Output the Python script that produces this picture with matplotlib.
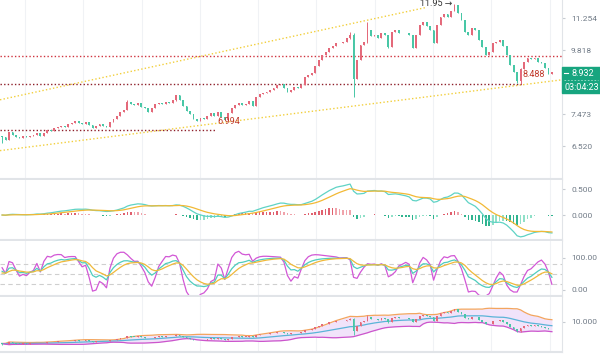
import numpy as np
import pandas as pd
import matplotlib
matplotlib.use('Agg')
import matplotlib.pyplot as plt
from matplotlib.patches import Rectangle
from matplotlib.lines import Line2D
from matplotlib.ticker import NullLocator

plt.rcParams['font.family'] = ['Roboto', 'DejaVu Sans']

# candle closes (open = previous close)
closes = [6.77, 6.70, 6.94, 6.85, 6.77, 6.74, 6.80, 6.77, 6.82, 6.85,
          6.91, 6.82, 6.91, 7.00, 6.97, 7.06, 7.09, 7.12, 7.09, 7.18,
          7.21, 7.27, 7.21, 7.18, 7.24, 7.15, 7.06, 7.12, 7.18, 7.12,
          7.09, 7.24, 7.33, 7.42, 7.56, 7.62, 7.88, 7.82, 7.79, 7.85,
          7.72, 7.66, 7.56, 7.66, 7.82, 7.85, 7.82, 7.88, 7.85, 7.95,
          8.10, 7.95, 7.75, 7.59, 7.47, 7.33, 7.27, 7.37, 7.33, 7.42,
          7.53, 7.42, 7.56, 7.40, 7.30, 7.50, 7.69, 7.79, 7.85, 7.79,
          7.82, 7.92, 7.75, 8.06, 8.16, 8.20, 8.23, 8.30, 8.37, 8.48,
          8.52, 8.37, 8.23, 8.30, 8.41, 8.37, 8.48, 8.76, 8.85, 8.93,
          9.20, 9.44, 9.64, 9.76, 9.93, 10.01, 10.15, 10.11, 10.19, 10.36,
          10.50, 8.70, 9.44, 10.06, 10.19, 10.72, 10.43, 10.50, 10.36, 10.59,
          10.46, 9.97, 10.63, 10.72, 10.59, 10.55, 10.59, 10.50, 9.93, 10.50,
          10.96, 11.10, 10.87, 10.72, 10.11, 10.96, 11.34, 11.44, 11.30, 11.63,
          11.93, 11.53, 11.19, 10.63, 10.46, 10.82, 10.72, 10.28, 9.97, 9.64,
          9.76, 10.11, 10.19, 10.28, 10.01, 9.64, 9.24, 8.97, 8.60, 9.05,
          9.36, 9.52, 9.45, 9.50, 9.36, 9.30, 9.12, 8.89, 8.932]
first_open = 6.80
# candles with visible wicks: index -> (high, low)
wicks = {0: (6.82, 6.62), 36: (7.95, 7.60), 50: (8.13, 7.90), 100: (10.60, 10.30),
         101: (10.55, 8.06), 105: (11.10, 10.15), 111: (10.50, 9.90),
         130: (11.95, 11.60), 148: (8.97, 8.55), 149: (9.10, 8.488)}

upper_trend = [(-0.6, 7.95), (121.6, 11.78)]
lower_trend = [(-0.6, 6.40), (161.0, 8.66)]
resist_level = 9.57
low_level = 8.488
old_low = 6.994
peak = 11.95
last_price = 8.932
countdown = '03:04:23'
price_ticks = [6.520, 7.473, 9.818, 11.254]

RED = '#e4697a'
TEAL = '#48c7a6'

c = np.array(closes)
o = np.array([first_open] + closes[:-1])
hi = np.maximum(o, c)
lo = np.minimum(o, c)
for k, (h, l) in wicks.items():
    hi[k] = h
    lo[k] = l
idx = np.arange(len(c))
cols = np.where(c >= o, RED, TEAL)

# indicators
cs = pd.Series(c)
dif = cs.ewm(span=12, adjust=False).mean() - cs.ewm(span=26, adjust=False).mean()
dea = dif.ewm(span=9, adjust=False).mean()
hist = dif - dea

llv = pd.Series(lo).rolling(9, min_periods=1).min()
hhv = pd.Series(hi).rolling(9, min_periods=1).max()
rsv = ((cs - llv) / (hhv - llv).replace(0, np.nan) * 100).fillna(50).values
K = np.zeros(len(c)); D = np.zeros(len(c))
kp, dp = 50.0, 50.0
for i in range(len(c)):
    kp = 2 / 3 * kp + rsv[i] / 3
    dp = 2 / 3 * dp + kp / 3
    K[i], D[i] = kp, dp
J = 3 * K - 2 * D

mid = cs.rolling(20, min_periods=1).mean()
sd = cs.rolling(20, min_periods=1).std(ddof=0)
bup = mid + 2 * sd
bdn = mid - 2 * sd

W, H = 600, 355
fig = plt.figure(figsize=(6, 3.55), dpi=100)


def panel(top, bottom):
    return fig.add_axes([0, 1 - bottom / H, 562 / W, (bottom - top) / H])


ax0 = panel(0, 179)
ax1 = panel(180, 240)
ax2 = panel(241, 296)
ax3 = panel(297, 352)
grid_x = [6.6 + 16.75 * k for k in range(10)]

for ax in (ax0, ax1, ax2, ax3):
    ax.set_xlim(-0.6, 160.9)
    for s in ('top', 'left'):
        ax.spines[s].set_visible(False)
    ax.spines['bottom'].set_color('#e1e4e8')
    ax.spines['bottom'].set_linewidth(1.5)
    ax.spines['right'].set_color('#e1e4e8')
    ax.set_xticks([])
    ax.yaxis.tick_right()
    ax.tick_params(axis='y', length=2.5, color='#c8ccd2', labelsize=6,
                   labelcolor='#707a86', pad=4)
    for gx in grid_x:
        ax.axvline(gx, color='#f0f2f5', lw=0.8, zorder=0)

# main price panel
ax0.set_yscale('log')
ax0.set_ylim(5.67, 12.17)
ax0.yaxis.set_minor_locator(NullLocator())
ax0.set_yticks(price_ticks)
ax0.set_yticklabels(['%.3f' % v for v in price_ticks])
ax0.vlines(idx, lo, hi, colors=cols, lw=0.7, zorder=3)
ax0.bar(idx, np.maximum(np.abs(c - o), 0.015), bottom=np.minimum(o, c),
        width=0.52, color=cols, zorder=3)
dots = (0, (1, 1.6))
ax0.plot(*zip(*upper_trend), ls=dots, color='#f2cf3c', lw=1, zorder=2)
ax0.plot(*zip(*lower_trend), ls=dots, color='#f2cf3c', lw=1, zorder=2)
ax0.hlines(resist_level, -0.6, 161, colors='#d0343f', linestyles=[dots], lw=1)
ax0.hlines(low_level, -0.6, 149.4, colors='#8e1f2a', linestyles=[dots], lw=1)
ax0.hlines(old_low, -0.6, 61.5, colors='#8e1f2a', linestyles=[dots], lw=1)
ax0.text(61.8, 7.25, '%.3f' % old_low, color='#c0392b', fontsize=6.5,
         va='center', ha='left', zorder=4)
ax0.text(149.6, 8.85, '%.3f' % low_level, color='#c0392b', fontsize=6.5,
         va='center', ha='left', zorder=4)
ax0.text(129.4, 11.98, '%.2f →' % peak, color='#333333', fontsize=6.5,
         va='center', ha='right', zorder=4)

# last price tag
fig.add_artist(Rectangle((562 / W, 1 - 93 / H), 38 / W, 26 / H,
                         transform=fig.transFigure, color='#17a57f', zorder=5))
fig.add_artist(Line2D([564 / W, 568 / W], [1 - 73 / H, 1 - 73 / H],
                      transform=fig.transFigure, color='white', lw=0.8, zorder=6))
fig.add_artist(Line2D([564 / W, 598 / W], [1 - 80 / H, 1 - 80 / H],
                      transform=fig.transFigure, color='#9fe0cc', lw=0.6,
                      ls=(0, (2, 2)), zorder=6))
fig.text(583 / W, 1 - 73 / H, '%.3f' % last_price, color='white', fontsize=6.5,
         ha='center', va='center', zorder=7)
fig.text(582 / W, 1 - 87 / H, countdown, color='white', fontsize=6.5,
         ha='center', va='center', zorder=7)

# MACD
ax1.set_ylim(-0.48, 0.673)
ax1.set_yticks([0, 0.5])
ax1.set_yticklabels(['0.000', '0.500'])
hv = hist.values
prev = np.concatenate([[0], hv[:-1]])
hcols = np.where(hv >= 0, np.where(hv >= prev, '#e0606e', '#f0a3ab'),
                 np.where(hv <= prev, '#2fb48f', '#90e0c8'))
ax1.bar(idx, hv, width=0.45, color=hcols)
ax1.plot(idx, dif, color='#5fd3c5', lw=0.9)
ax1.plot(idx, dea, color='#f2b935', lw=0.9)

# KDJ
ax2.set_ylim(-19, 153)
ax2.set_yticks([0, 100])
ax2.set_yticklabels(['0.00', '100.00'])
for lv in (20, 50, 80):
    ax2.axhline(lv, color='#cfcfcf', lw=0.8, ls=(0, (4, 3)))
ax2.plot(idx, J, color='#d257d6', lw=0.9)
ax2.plot(idx, K, color='#4fcdbd', lw=0.9)
ax2.plot(idx, D, color='#f0b93a', lw=0.9)

# BOLL
ax3.set_ylim(5.5, 13.75)
ax3.set_yticks([10])
ax3.set_yticklabels(['10.000'])
ax3.fill_between(idx, bdn, bup, color='#f1e3fa', lw=0)
ax3.plot(idx, bup, color='#f3a55e', lw=0.9)
ax3.plot(idx, mid, color='#5ab4d8', lw=0.9)
ax3.plot(idx, bdn, color='#cc55cc', lw=0.9)
ax3.vlines(idx, lo, hi, colors=cols, lw=0.6, zorder=3)
ax3.bar(idx, np.maximum(np.abs(c - o), 0.04), bottom=np.minimum(o, c),
        width=0.5, color=cols, zorder=3)

fig.savefig('out.png', dpi=100)
